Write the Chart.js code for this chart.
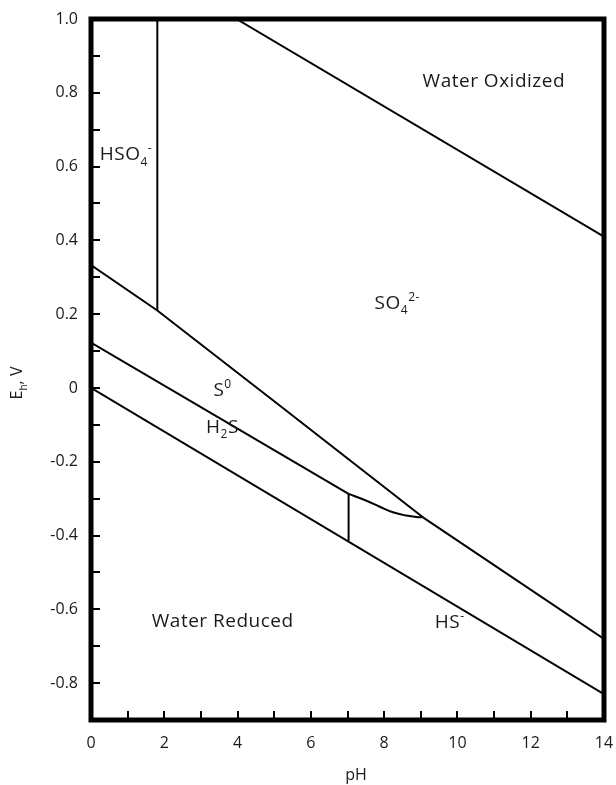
<!DOCTYPE html>
<html>
<head>
<meta charset="utf-8">
<script src="https://cdn.jsdelivr.net/npm/chart.js@4.4.0/dist/chart.umd.min.js"></script>
<style>
  html, body { margin: 0; padding: 0; background: #fff; }
  #wrap { width: 616px; height: 785px; }
</style>
</head>
<body>
<div id="wrap"><canvas id="myChart" width="616" height="785"></canvas></div>
<script>
// stability boundaries, each point is [pH, Eh (V)]
const waterOxidized = [[3.97, 1.0], [14, 0.41]];
const waterReduced = [[0, 0.0], [14, -0.83]];
const hso4So4 = [[1.81, 1.0], [1.81, 0.21]];
const sulfateSulfur = [[0, 0.333], [1.81, 0.21], [5.0, -0.036], [9.05, -0.35]];
const sulfateHS = [[9.05, -0.35], [14, -0.68]];
const sulfurH2S = [[0, 0.123], [7.03, -0.287]];
const sulfurHS = [[7.03, -0.287], [7.5, -0.305], [7.88, -0.322], [8.24, -0.337], [8.6, -0.346], [8.88, -0.35], [9.05, -0.35]];
const h2sHS = [[7.03, -0.287], [7.03, -0.414]];

// labelled ticks
const xLabelValues = [0, 2, 4, 6, 8, 10, 12, 14];
const yLabelValues = [1.0, 0.8, 0.6, 0.4, 0.2, 0, -0.2, -0.4, -0.6, -0.8];

// species names: [text, '' | 'sub' | 'sup'] pieces, anchored at left baseline [pH, Eh]
const regionLabels = [
  { parts: [['Water Oxidized', '']], at: [9.05, 0.815] },
  { parts: [['HSO', ''], ['4', 'sub'], ['-', 'sup']], at: [0.24, 0.618] },
  { parts: [['SO', ''], ['4', 'sub'], ['2-', 'sup']], at: [7.74, 0.215] },
  { parts: [['S', ''], ['0', 'sup']], at: [3.34, -0.023] },
  { parts: [['H', ''], ['2', 'sub'], ['S', '']], at: [3.14, -0.121] },
  { parts: [['HS', ''], ['-', 'sup']], at: [9.38, -0.65] },
  { parts: [['Water Reduced', '']], at: [1.66, -0.647] }
];

const FONT = '"Open Sans", "Noto Sans", sans-serif';
const INK = '#1a1a1a';

const toXY = pts => pts.map(([x, y]) => ({ x: x, y: y }));
const boundary = (pts, curved) => ({
  data: toXY(pts),
  showLine: true,
  borderColor: '#000',
  borderWidth: 2,
  pointRadius: 0,
  tension: curved ? 0.4 : 0,
  fill: false
});

function drawParts(ctx, parts, x, y, size) {
  let cx = x;
  parts.forEach(([text, kind]) => {
    const s = kind ? Math.round(size * 0.62) : size;
    const dy = kind === 'sub' ? size * 0.3 : kind === 'sup' ? -size * 0.42 : 0;
    ctx.font = s + 'px ' + FONT;
    ctx.fillText(text, cx, y + dy);
    cx += ctx.measureText(text).width;
  });
}

const annotations = {
  id: 'annotations',
  afterDraw(chart) {
    const { ctx, chartArea: a, scales: { x, y } } = chart;
    ctx.save();

    // inward tick marks
    ctx.strokeStyle = '#000';
    ctx.lineWidth = 2;
    ctx.beginPath();
    x.ticks.forEach(t => {
      if (t.value <= x.min || t.value >= x.max) return;
      const px = Math.round(x.getPixelForValue(t.value));
      ctx.moveTo(px, a.bottom);
      ctx.lineTo(px, a.bottom - 9);
    });
    y.ticks.forEach(t => {
      if (t.value <= y.min + 1e-9 || t.value >= y.max - 1e-9) return;
      const py = Math.round(y.getPixelForValue(t.value));
      ctx.moveTo(a.left, py);
      ctx.lineTo(a.left + 9, py);
    });
    ctx.stroke();

    // heavy frame
    ctx.lineWidth = 5;
    ctx.strokeRect(a.left, a.top, a.right - a.left, a.bottom - a.top);

    // species names
    ctx.fillStyle = INK;
    ctx.textBaseline = 'alphabetic';
    ctx.textAlign = 'left';
    ctx.letterSpacing = '0.5px';
    regionLabels.forEach(l => {
      drawParts(ctx, l.parts, x.getPixelForValue(l.at[0]), y.getPixelForValue(l.at[1]), 19);
    });
    ctx.letterSpacing = '0px';

    // axis titles
    ctx.textAlign = 'center';
    ctx.font = '16px ' + FONT;
    ctx.fillText('pH', 356, 780);

    ctx.translate(22, 383);
    ctx.rotate(-Math.PI / 2);
    ctx.textAlign = 'left';
    ctx.font = '16px ' + FONT;
    const w = ctx.measureText('E').width + ctx.measureText('h').width * 0.62 + ctx.measureText(', V').width;
    drawParts(ctx, [['E', ''], ['h', 'sub'], [', V', '']], -w / 2, 0, 16);
    ctx.restore();
  }
};

const ctx = document.getElementById('myChart').getContext('2d');
const myChart = new Chart(ctx, {
  type: 'scatter',
  data: {
    datasets: [
      boundary(waterOxidized),
      boundary(waterReduced),
      boundary(hso4So4),
      boundary(sulfateSulfur),
      boundary(sulfateHS),
      boundary(sulfurH2S),
      boundary(sulfurHS, true),
      boundary(h2sHS)
    ]
  },
  options: {
    responsive: false,
    animation: false,
    layout: { padding: { top: 19, right: 12, left: 0, bottom: 0 } },
    plugins: {
      legend: { display: false },
      tooltip: { enabled: false }
    },
    scales: {
      x: {
        type: 'linear',
        min: 0,
        max: 14,
        afterFit(s) {
          s.height = 65;
          s.paddingLeft = 0;
          s.paddingRight = 0;
        },
        grid: { display: false },
        border: { display: false },
        ticks: {
          stepSize: 1,
          autoSkip: false,
          maxRotation: 0,
          padding: 6,
          color: INK,
          font: { family: FONT, size: 16 },
          callback: v => xLabelValues.includes(v) ? String(v) : ''
        }
      },
      y: {
        type: 'linear',
        min: -0.9,
        max: 1.0,
        afterFit(s) {
          s.width = 91;
          s.paddingTop = 0;
          s.paddingBottom = 0;
        },
        grid: { display: false },
        border: { display: false },
        ticks: {
          stepSize: 0.1,
          autoSkip: false,
          padding: 5,
          color: INK,
          font: { family: FONT, size: 16 },
          callback: v => {
            const r = Math.round(v * 10) / 10;
            if (!yLabelValues.includes(r)) return '';
            return r === 0 ? '0' : r.toFixed(1);
          }
        }
      }
    }
  },
  plugins: [annotations]
});
</script>
</body>
</html>
